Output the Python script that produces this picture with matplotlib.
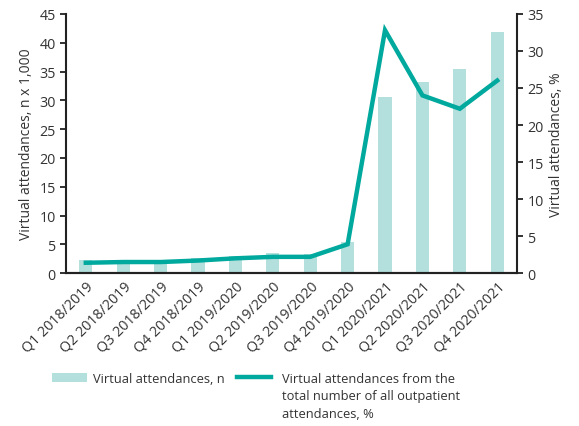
import numpy as np
import matplotlib.pyplot as plt

plt.rcParams['font.family'] = ['Open Sans', 'DejaVu Sans']
plt.rcParams['font.size'] = 10

# Daten
quartale = ["Q1 2018/2019", "Q2 2018/2019", "Q3 2018/2019", "Q4 2018/2019",
            "Q1 2019/2020", "Q2 2019/2020", "Q3 2019/2020", "Q4 2019/2020",
            "Q1 2020/2021", "Q2 2020/2021", "Q3 2020/2021", "Q4 2020/2021"]
anzahl = [2.3, 2.1, 2.1, 2.6, 2.9, 3.5, 3.3, 5.4, 30.6, 33.2, 35.4, 41.8]   # n x 1000
anteil = [1.4, 1.5, 1.5, 1.7, 2.0, 2.2, 2.2, 3.9, 32.8, 24.0, 22.2, 26.0]   # %

bar_col = '#b3dfdc'
line_col = '#00a99d'
txt_col = '#333333'
leg_fs = 9.3

fig = plt.figure(figsize=(5.79, 4.27), dpi=100)
ax = fig.add_axes([0.114, 0.358, 0.779, 0.607])
ax2 = ax.twinx()

x = np.arange(len(quartale))
b = ax.bar(x, anzahl, width=0.35, color=bar_col, label='Virtual attendances, n', zorder=1)
l, = ax2.plot(x, anteil, color=line_col, lw=3.2, solid_joinstyle='miter',
              label='Virtual attendances from the')

ax.set_xlim(-0.53, 11.53)
ax.set_ylim(0, 45)
ax2.set_ylim(0, 35)
ax.set_yticks(np.arange(0, 46, 5))
ax2.set_yticks(np.arange(0, 36, 5))
ax.set_xticks(x)
ax.set_xticklabels(quartale, rotation=45, ha='right', rotation_mode='anchor')

for a in (ax, ax2):
    a.spines['top'].set_visible(False)
    for s in a.spines.values():
        s.set_linewidth(1.5)
        s.set_color('#222222')
    a.tick_params(colors='#222222', labelcolor=txt_col, width=1.3, length=4, labelsize=10.3)
ax.spines['right'].set_visible(False)
ax2.spines['left'].set_visible(False)
ax.tick_params(axis='x', length=0, pad=4)

ax.set_ylabel('Virtual attendances, n x 1,000', color=txt_col, fontsize=10)
ax2.set_ylabel('Virtual attendances, %', color=txt_col, fontsize=10)

# Legende: zwei Einzellegenden
leg1 = fig.legend(handles=[b], loc='upper left', bbox_to_anchor=(52 / 579, 0.127),
                  frameon=False, handlelength=2.7, handletextpad=0.45,
                  borderpad=0, borderaxespad=0, fontsize=leg_fs, labelcolor=txt_col)
leg2 = fig.legend(handles=[l], loc='upper left', bbox_to_anchor=(237 / 579, 0.127),
                  frameon=False, handlelength=2.6, handletextpad=0.9,
                  borderpad=0, borderaxespad=0, fontsize=leg_fs, labelcolor=txt_col)
fig.canvas.draw()
ext = leg2.get_texts()[0].get_window_extent()
fig.text(ext.x0 / fig.bbox.width, (ext.y0 - 4) / fig.bbox.height,
         'total number of all outpatient\nattendances, %', color=txt_col, fontsize=leg_fs,
         va='top', ha='left', linespacing=1.5)

plt.savefig('out.png', dpi=100)
